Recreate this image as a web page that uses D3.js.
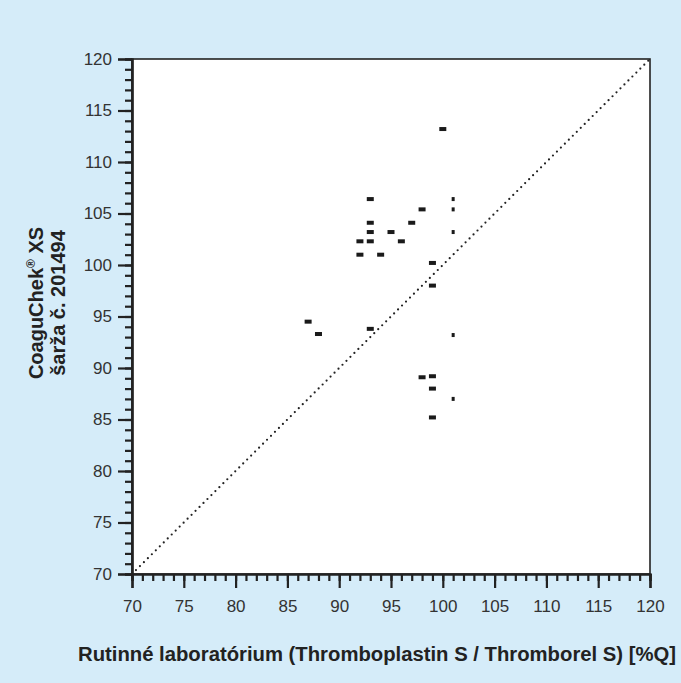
<!DOCTYPE html>
<html>
<head>
<meta charset="utf-8">
<script src="https://cdn.jsdelivr.net/npm/d3@7"></script>
<style>
  body { margin: 0; background: #d5ecf9; }
  svg { display: block; font-family: "Liberation Sans", Arial, sans-serif; }
</style>
</head>
<body>
<div id="chart"></div>
<script>
// osy: obe 70..120 %Q
const domain = [70, 120];
const majorTicks = [70, 75, 80, 85, 90, 95, 100, 105, 110, 115, 120];
const minorTicks = d3.range(70, 121, 1);

// rutinní laboratoř (x) vs CoaguChek XS (y) - širší značky
const labX = [100, 93, 98, 93, 97, 93, 95, 92, 93, 96, 92, 94, 99, 99, 87, 88, 93, 98, 99, 99, 99];
const xsY  = [113.2, 106.4, 105.4, 104.1, 104.1, 103.2, 103.2, 102.3, 102.3, 102.3, 101, 101, 100.2, 98, 94.5, 93.3, 93.8, 89.1, 89.2, 88, 85.2];

// body na x = 101 (užší značky)
const labX2 = [101, 101, 101, 101, 101];
const xsY2  = [106.4, 105.4, 103.2, 93.2, 87];

const W = 681, H = 683;
const m = { left: 132, top: 59, right: 650, bottom: 574 };

const svg = d3.select('#chart').append('svg')
    .attr('width', W)
    .attr('height', H);

const x = d3.scaleLinear().domain(domain).range([m.left, m.right]);
const y = d3.scaleLinear().domain(domain).range([m.bottom, m.top]);

// bílá plocha grafu
svg.append('rect')
    .attr('x', m.left).attr('y', m.top)
    .attr('width', m.right - m.left).attr('height', m.bottom - m.top)
    .attr('fill', '#fff')
    .attr('stroke', '#222')
    .attr('stroke-width', 1.6);

// diagonála y = x
svg.append('line')
    .attr('x1', x(70)).attr('y1', y(70))
    .attr('x2', x(120)).attr('y2', y(120))
    .attr('stroke', '#222')
    .attr('stroke-width', 2.2)
    .attr('stroke-linecap', 'round')
    .attr('stroke-dasharray', '0,5.6');

// osa x (malé a velké dílky zvlášť)
svg.append('g').attr('transform', `translate(0,${m.bottom})`)
    .call(d3.axisBottom(x).tickValues(minorTicks).tickSize(7).tickFormat(''));
svg.append('g').attr('transform', `translate(0,${m.bottom})`)
    .call(d3.axisBottom(x).tickValues(majorTicks).tickSize(14).tickPadding(12).tickFormat(d3.format('d')));

// osa y
svg.append('g').attr('transform', `translate(${m.left},0)`)
    .call(d3.axisLeft(y).tickValues(minorTicks).tickSize(7).tickFormat(''));
svg.append('g').attr('transform', `translate(${m.left},0)`)
    .call(d3.axisLeft(y).tickValues(majorTicks).tickSize(14).tickPadding(6).tickFormat(d3.format('d')));

svg.selectAll('.domain').attr('stroke', '#222').attr('stroke-width', 2.2);
svg.selectAll('.tick line').attr('stroke', '#222').attr('stroke-width', 2.2);
svg.selectAll('.tick text').attr('font-size', 17).attr('fill', '#333')
    .attr('font-family', '"Liberation Sans", Arial, sans-serif');

// body
svg.append('g').selectAll('rect')
    .data(labX.map((v, i) => [v, xsY[i]]))
    .enter().append('rect')
    .attr('x', d => x(d[0]) - 3.5)
    .attr('y', d => y(d[1]) - 2)
    .attr('width', 7)
    .attr('height', 4)
    .attr('fill', '#1a1a1a');

svg.append('g').selectAll('rect')
    .data(labX2.map((v, i) => [v, xsY2[i]]))
    .enter().append('rect')
    .attr('x', d => x(d[0]) - 1.5)
    .attr('y', d => y(d[1]) - 2)
    .attr('width', 3)
    .attr('height', 4)
    .attr('fill', '#1a1a1a');

// popisky os
svg.append('text')
    .attr('x', 676).attr('y', 661)
    .attr('text-anchor', 'end')
    .attr('font-size', 20).attr('font-weight', 'bold').attr('fill', '#222')
    .attr('textLength', 598).attr('lengthAdjust', 'spacingAndGlyphs')
    .text('Rutinné laboratórium (Thromboplastin S / Thromborel S) [%Q]');

const yt = svg.append('text')
    .attr('transform', 'translate(43,303) rotate(-90)')
    .attr('text-anchor', 'middle')
    .attr('font-size', 20).attr('font-weight', 'bold').attr('fill', '#222');
yt.append('tspan').attr('x', 0).attr('dy', 0).text('CoaguChek')
  .append('tspan').attr('font-size', 12).attr('dy', -8).text('®');
yt.append('tspan').attr('dy', 8).text(' XS');
yt.append('tspan').attr('x', 0).attr('dy', 22).text('šarža č. 201494');
</script>
</body>
</html>
